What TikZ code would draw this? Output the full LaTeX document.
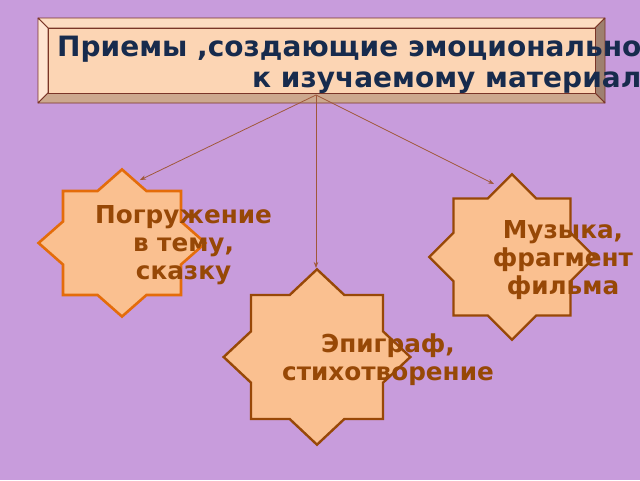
\documentclass[tikz,border=0pt]{standalone}
\usepackage{fontspec}
\setmainfont{DejaVu Sans}
\usetikzlibrary{arrows.meta}
\definecolor{bg}{HTML}{C89CDC}
\definecolor{face}{HTML}{FCD5B4}
\definecolor{bevtop}{HTML}{FDDCC2}
\definecolor{bevleft}{HTML}{FFE4D2}
\definecolor{bevright}{HTML}{9E8070}
\definecolor{bevbot}{HTML}{CCA88E}
\definecolor{boxline}{HTML}{7A3528}
\definecolor{titletext}{HTML}{172B4D}
\definecolor{starfill}{HTML}{FAC090}
\definecolor{starorange}{HTML}{E46C0A}
\definecolor{starbrown}{HTML}{984807}
\definecolor{startext}{HTML}{974806}
\definecolor{conn}{HTML}{A0583A}
\tikzset{
  eightstar/.pic={\path[pic actions] (1.4142,0) -- (1,0.4142) -- (1,1) -- (0.4142,1) -- (0,1.4142) -- (-0.4142,1) -- (-1,1) -- (-1,0.4142) -- (-1.4142,0) -- (-1,-0.4142) -- (-1,-1) -- (-0.4142,-1) -- (0,-1.4142) -- (0.4142,-1) -- (1,-1) -- (1,-0.4142) -- cycle;},
  bevel/.style={draw=boxline, line width=0.8pt, line join=round},
  titlefont/.style={font=\fontsize{28}{31}\selectfont\bfseries, text=titletext, inner sep=0pt},
  starlabel/.style={font=\fontsize{24.7}{27.8}\selectfont\bfseries, text=startext, align=center, inner sep=0pt},
  connector/.style={draw=conn, line width=0.8pt, -{Stealth[length=6pt,width=4.5pt]}},
}
\begin{document}
\begin{tikzpicture}[x=1pt,y=-1pt]
\useasboundingbox (0,0) rectangle (640,480);
\fill[bg] (0,0) rectangle (640,480);
% title box with bevel
\path[bevel, fill=bevtop] (38,18) -- (605,18) -- (595,28) -- (48,28) -- cycle;
\path[bevel, fill=bevleft] (38,18) -- (48,28) -- (48,93) -- (38,103) -- cycle;
\path[bevel, fill=bevright] (605,18) -- (605,103) -- (595,93) -- (595,28) -- cycle;
\path[bevel, fill=bevbot] (38,103) -- (605,103) -- (595,93) -- (48,93) -- cycle;
\node[bevel, fill=face, minimum width=547pt, minimum height=65pt, inner sep=0pt, anchor=north west] (title) at (48,28) {};
\node[titlefont, anchor=base west] (t1) at (57,56) {Приемы ,создающие эмоционально};
\node[titlefont, anchor=base west] (t2) at (252,87) {к изучаемому материал};
% stars
\coordinate (s1) at (122,243);
\coordinate (s2) at (512,257);
\coordinate (s3) at (317,357);
\pic[xscale=59, yscale=52, fill=starfill, draw=starorange, line width=2.6pt, line join=miter] at (s1) {eightstar};
\pic[xscale=58.5, yscale=58.5, fill=starfill, draw=starbrown, line width=2.4pt, line join=miter] at (s2) {eightstar};
\pic[xscale=66, yscale=62, fill=starfill, draw=starbrown, line width=2.4pt, line join=miter] at (s3) {eightstar};
\node[starlabel] (l1) at (183.5,245) {Погружение\\в тему,\\сказку};
\node[starlabel] (l2) at (563,260) {Музыка,\\фрагмент\\фильма};
\node[starlabel] (l3) at (388,360) {Эпиграф,\\стихотворение};
% connectors
\coordinate (src) at (316,95);
\coordinate (e1) at (140,180);
\coordinate (e2) at (494,184);
\coordinate (e3) at (316,268);
\draw[connector] (src) -- (e1);
\draw[connector] (src) -- (e2);
\draw[connector] (src) -- (e3);
\end{tikzpicture}
\end{document}
